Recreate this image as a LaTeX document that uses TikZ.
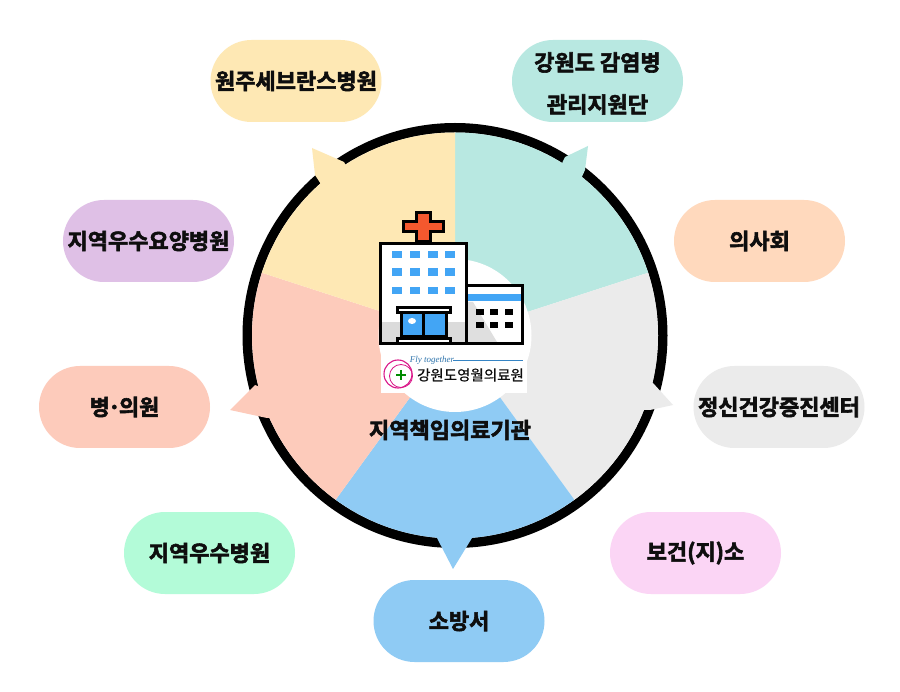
\documentclass[tikz,border=0pt]{standalone}
\usepackage{fontspec}
\setmainfont{Noto Sans CJK KR}[BoldFont={Noto Sans CJK KR Bold},BoldFeatures={FakeBold=2.6}]
\newfontfamily\krlogo[FakeBold=0.6]{Noto Sans CJK KR}
\newfontfamily\flyfont{Liberation Serif}
\definecolor{cyellow}{HTML}{FEE8B4}
\definecolor{cteal}{HTML}{B8E8E1}
\definecolor{cgrey}{HTML}{EBEBEB}
\definecolor{cblue}{HTML}{8FCBF4}
\definecolor{cpink}{HTML}{FDCBBB}
\definecolor{clilac}{HTML}{DFC0E6}
\definecolor{cmint}{HTML}{B3FBD8}
\definecolor{corchid}{HTML}{FBD5F5}
\definecolor{cpeach}{HTML}{FFD9BD}
\definecolor{ink}{HTML}{0E0E0E}
\definecolor{wblue}{HTML}{42A5F5}
\definecolor{hred}{HTML}{F4582E}
\usetikzlibrary{shapes.misc}
\tikzset{
  pill/.style={rounded rectangle,minimum width=171pt,minimum height=82pt,inner sep=0pt,align=center,
    text=ink,font=\fontsize{22}{42}\selectfont\bfseries},
  pilltext/.style={inner sep=0pt,align=center,text=ink,font=\fontsize{22}{42}\selectfont\bfseries},
  hline/.style={draw=black,line width=3pt,line join=miter},
  wndw/.style={fill=wblue},
  dwnd/.style={fill=black},
}
\begin{document}
\begin{tikzpicture}[x=1pt,y=-1pt]
\useasboundingbox (0,0) rectangle (900,692);
\fill[white] (0,0) rectangle (900,692);
\coordinate (c) at (455,335.5);
% ring
\fill[black] (c) circle[radius=212.5pt];
\fill[white] (c) circle[radius=203pt];
% sectors
\begin{scope}
\clip (c) circle[radius=203pt];
\begin{scope}[shift={(c)}]
\foreach \a/\col in {-90/cteal,-18/cgrey,54/cblue,126/cpink,198/cyellow}{
  \fill[\col] (0,0) -- (\a:300) -- (\a+72:300) -- cycle;
}
\end{scope}
\end{scope}
% pointers
\fill[cyellow] (312,148) -- (344,162) -- (352,178) -- (328,195) -- (315,175) -- cycle;
\fill[cteal] (588,146) -- (565,157) -- (555,178) -- (575,192) -- (585,170) -- cycle;
\fill[cgrey] (673,405) -- (653,383) -- (630,390) -- (630,410) -- (650,410) -- cycle;
\fill[cblue] (453,569) -- (437,538) -- (437,520) -- (472,520) -- (472,538) -- cycle;
\fill[cpink] (230,410) -- (255,385) -- (280,395) -- (285,418) -- (267,418) -- cycle;
\fill[white] (c) circle[radius=76.5pt];
% pills
\node[pill,fill=cyellow] (wonju) at (296,81) {원주세브란스병원};
\node[pill,fill=cteal] (gamyeom) at (597.5,81) {};
\node[pilltext] (gamyeomtext) at (597.5,83.5) {강원도 감염병\\관리지원단};
\node[pill,fill=cpeach] (uisa) at (759.5,241) {의사회};
\node[pill,fill=cgrey] (jeongsin) at (779,407) {정신건강증진센터};
\node[pill,fill=corchid] (bogeon) at (695.5,553) {보건(지)소};
\node[pill,fill=cblue] (sobang) at (459,621) {소방서};
\node[pill,fill=cmint] (usu) at (209.5,553) {지역우수병원};
\node[pill,fill=cpink] (byeong) at (124.5,407) {병\kern-2pt·\kern-2pt의원};
\node[pill,fill=clilac] (yoyang) at (148.5,241) {지역우수요양병원};
% hospital
\filldraw[fill=hred,hline] (416.5,212.5) -- (430.5,212.5) -- (430.5,221.5) -- (443.5,221.5) -- (443.5,231.5) -- (430.5,231.5) -- (430.5,242) -- (416.5,242) -- (416.5,231.5) -- (403.5,231.5) -- (403.5,221.5) -- (416.5,221.5) -- cycle;
\fill[white] (380.5,243.5) rectangle (466.5,343.5);
\fill[gray!28] (381,322) rectangle (467,343);
\draw[hline] (380.5,243.5) rectangle (466.5,343.5);
\foreach \yy in {251,268.5,287}{
  \foreach \xx in {392,410,428,445}{
    \fill[wndw] (\xx,\yy) rectangle (\xx+10,\yy+7.5);
  }
}
\fill[white] (468,285.5) rectangle (522.5,343.5);
\fill[gray!25] (468,302) -- (473,302) -- (497,342) -- (468,342) -- cycle;
\fill[wblue] (468,294) rectangle (521,301);
\draw[hline] (466.5,285.5) -- (522.5,285.5) -- (522.5,343.5) -- (466.5,343.5);
\foreach \yy in {309,322}{
  \foreach \xx in {476,490,505}{
    \fill[dwnd] (\xx,\yy) rectangle (\xx+8,\yy+6);
  }
}
\filldraw[fill=wblue,hline] (401,313) rectangle (446,337);
\draw[hline] (423.5,313) -- (423.5,337);
\fill[white] (412,321) ellipse[x radius=4pt,y radius=3pt];
\filldraw[fill=white,hline] (397.5,307.5) rectangle (450.5,312.5);
\filldraw[fill=white,hline] (397.5,338.5) rectangle (450.5,343.5);
% logo
\fill[white] (381,345) rectangle (527,393);
\draw[magenta!90!black,line width=1.1pt] (398,374) circle[radius=14pt];
\draw[magenta!90!black,line width=.8pt] (401,376) circle[radius=11.5pt];
\draw[green!55!black,line width=1.5pt] (396,375) -- (406,375) (401,370) -- (401,380);
\draw[wblue!80!black,line width=.5pt] (453,360) -- (523,360);
\node[inner sep=0pt,text=wblue!70!black,font=\flyfont\itshape\fontsize{9}{9}\selectfont] (fly) at (432,360) {Fly together};
\node[inner sep=0pt,text=ink,font=\krlogo\fontsize{14.5}{14.5}\selectfont] (logotext) at (470.5,375) {강원도영월의료원};
\node[inner sep=0pt,text=ink,font=\fontsize{22}{22}\selectfont\bfseries] (main) at (450,430) {지역책임의료기관};
\end{tikzpicture}
\end{document}
